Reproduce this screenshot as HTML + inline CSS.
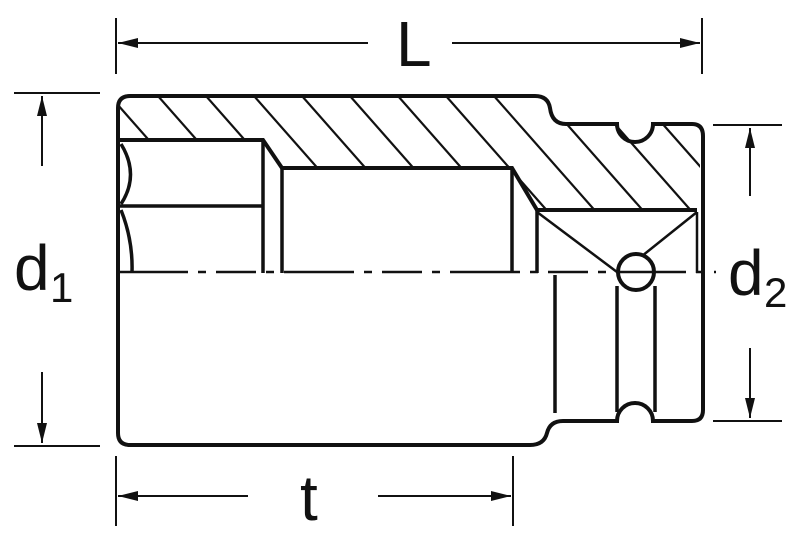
<!DOCTYPE html>
<html><head><meta charset="utf-8"><style>
html,body{margin:0;padding:0;background:#fff;width:800px;height:536px;overflow:hidden}
text{font-family:"Liberation Sans","DejaVu Sans",sans-serif;fill:#111}
</style></head><body>
<svg width="800" height="536" viewBox="0 0 800 536" xmlns="http://www.w3.org/2000/svg">
<defs>
<clipPath id="hc"><polygon points="118,96 540,96 560,125 700,125 700,212 538,212 513,168 282,168 263,140 118,140"/></clipPath>
<marker id="ah" viewBox="0 0 20 10" refX="20" refY="5" markerWidth="20" markerHeight="10" markerUnits="userSpaceOnUse" orient="auto"><path d="M0,0 L20,5 L0,10 Z" fill="#111"/></marker>
</defs>
<g stroke="#111" fill="none">
<!-- hatch -->
<g clip-path="url(#hc)" stroke-width="2.2">
<line x1="110" y1="96" x2="214" y2="214"/><line x1="158" y1="96" x2="262" y2="214"/><line x1="206" y1="96" x2="310" y2="214"/>
<line x1="254" y1="96" x2="358" y2="214"/><line x1="302" y1="96" x2="406" y2="214"/><line x1="350" y1="96" x2="454" y2="214"/>
<line x1="398" y1="96" x2="502" y2="214"/><line x1="446" y1="96" x2="550" y2="214"/><line x1="494" y1="96" x2="598" y2="214"/>
<line x1="542" y1="96" x2="646" y2="214"/><line x1="590" y1="96" x2="694" y2="214"/><line x1="638" y1="96" x2="742" y2="214"/>
</g>
<!-- outline -->
<path stroke-width="4" d="M130,96 L535,96 Q548,96 550,108 Q552,124 566,124 L617,124 A18,18 0 0 0 653,124 L692,124 Q703,124 703,136 L703,410 Q703,421 692,421 L653,421 A18,18 0 0 0 617,421 L563,421 Q550,421 547,433 Q544,445 530,445 L130,445 Q118,445 118,433 L118,108 Q118,96 130,96 Z"/>
<!-- inner bore -->
<path stroke-width="4" d="M118,140 L263,140 L282,168 L512,168 L537,210 L697,210"/>
<path stroke-width="3.5" d="M118,206 L263,206 M263,140 L263,273 M282,168 L282,273 M512,168 L512,273 M537,210 L537,273"/>
<path stroke-width="3.5" d="M121,144 Q140,175 121,204 M121,210 Q133,240 132,272"/>
<path stroke-width="2.5" d="M537,212 L617,272 M697,212 L642,256 M697,212 L697,273"/>
<circle cx="636" cy="272" r="18" stroke-width="4" fill="#fff"/>
<path stroke-width="3.5" d="M555,275 L555,413 M617,286 L617,412 M655,286 L655,412"/>
<line x1="118" y1="272" x2="716" y2="272" stroke-width="2.5" stroke-dasharray="70 10 8 10 40 10 8 10"/>
<!-- dimension lines -->
<g stroke-width="2">
<line x1="116" y1="18" x2="116" y2="74"/><line x1="702" y1="18" x2="702" y2="74"/>
<line x1="368" y1="43" x2="118" y2="43" marker-end="url(#ah)"/><line x1="452" y1="43" x2="700" y2="43" marker-end="url(#ah)"/>
<line x1="14" y1="93" x2="100" y2="93"/><line x1="14" y1="446" x2="100" y2="446"/>
<line x1="42" y1="166" x2="42" y2="96" marker-end="url(#ah)"/><line x1="42" y1="372" x2="42" y2="443" marker-end="url(#ah)"/>
<line x1="713" y1="125" x2="782" y2="125"/><line x1="713" y1="421" x2="782" y2="421"/>
<line x1="750" y1="196" x2="750" y2="128" marker-end="url(#ah)"/><line x1="750" y1="348" x2="750" y2="418" marker-end="url(#ah)"/>
<line x1="116" y1="456" x2="116" y2="526"/><line x1="513" y1="456" x2="513" y2="526"/>
<line x1="248" y1="496" x2="118" y2="496" marker-end="url(#ah)"/><line x1="378" y1="496" x2="511" y2="496" marker-end="url(#ah)"/>
</g>
</g>
<text x="396" y="66" font-size="64">L</text>
<text x="14" y="290" font-size="64">d</text><text x="50" y="302" font-size="42">1</text>
<text x="728" y="295" font-size="64">d</text><text x="764" y="307" font-size="42">2</text>
<text x="300" y="520" font-size="64">t</text>
</svg>
</body></html>
